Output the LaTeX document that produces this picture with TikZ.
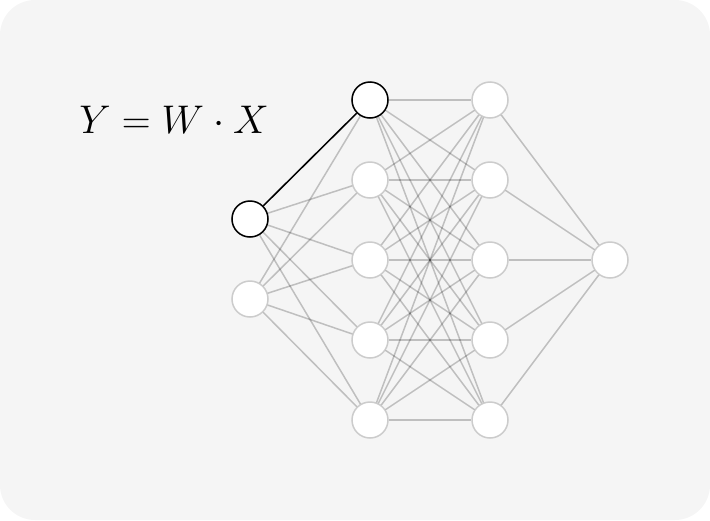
\documentclass[tikz,border=0pt]{standalone}
\usepackage{fix-cm}
\begin{document}
\begin{tikzpicture}[x=1pt,y=-1pt,
  neuron/.style={circle,draw=black!20,fill=white,line width=1.5pt,minimum size=36pt,inner sep=0pt},
  active/.style={neuron,draw=black},
  edge/.style={draw=black,opacity=0.22,line width=1.5pt},
  activeedge/.style={draw=black,line width=1.5pt}]
\path[use as bounding box] (0,0) rectangle (710,520);
\fill[black!4,rounded corners=35pt] (0,0) rectangle (710,520);
\node[neuron] (a1) at (250,219) {};
\node[neuron] (a2) at (250,299) {};
\foreach \i/\y in {1/100,2/180,3/260,4/340,5/420}{
  \node[neuron] (b\i) at (370,\y) {};
  \node[neuron] (c\i) at (490,\y) {};
}
\node[neuron] (d1) at (610,260) {};
\foreach \i in {1,2}{\foreach \j in {1,...,5}{\path[edge] (a\i) -- (b\j);}}
\foreach \i in {1,...,5}{\foreach \j in {1,...,5}{\path[edge] (b\i) -- (c\j);}}
\foreach \i in {1,...,5}{\path[edge] (c\i) -- (d1);}
\path[activeedge] (a1) -- (b1);
\node[active] at (a1) {};
\node[active] at (b1) {};
\node (eq) at (174,120) {\fontsize{40}{48}\selectfont $Y = W \cdot X$};
\end{tikzpicture}
\end{document}
